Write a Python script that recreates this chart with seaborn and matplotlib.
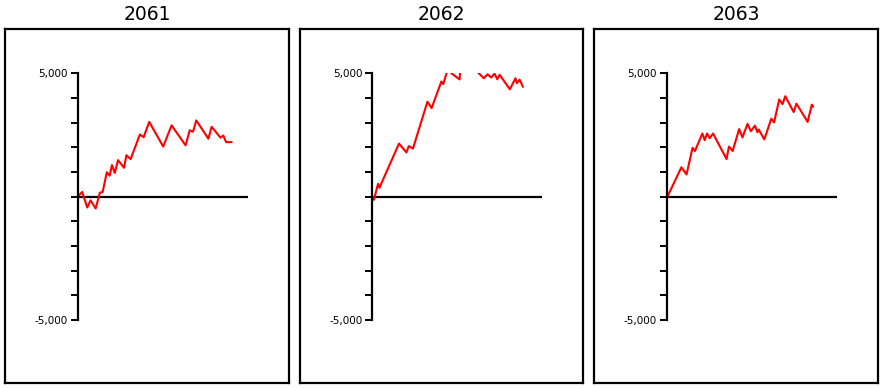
import numpy as np
import pandas as pd
import matplotlib
matplotlib.use("Agg")
import matplotlib.pyplot as plt
from matplotlib.ticker import FixedLocator, FuncFormatter
import seaborn as sns

# ---------------- data ----------------
years = ["2061", "2062", "2063"]

days_2061 = [0, 10, 21, 28, 39, 48, 54, 63, 69, 74, 80, 87, 100, 105, 114, 134, 142, 154,
             184, 202, 232, 241, 248, 255, 281, 288, 307, 313, 319, 331]
vals_2061 = [0, 190, -440, -150, -480, 160, 190, 990, 850, 1280, 960, 1480, 1170, 1680, 1520,
             2520, 2410, 3030, 2030, 2890, 2080, 2690, 2630, 3090, 2350, 2830, 2390, 2480, 2210, 2210]

days_2062 = [0, 4, 13, 16, 58, 74, 79, 88, 119, 128, 149, 153, 162, 188, 191, 221, 240, 248,
             256, 263, 269, 274, 296, 308, 311, 317, 324]
vals_2062 = [0, -130, 520, 360, 2150, 1790, 2050, 1950, 3850, 3590, 4670, 4560, 5130, 4750,
             5600, 5160, 4800, 4960, 4830, 4990, 4760, 4940, 4350, 4800, 4600, 4740, 4450]

days_2063 = [0, 32, 43, 56, 61, 77, 82, 87, 93, 100, 129, 134, 142, 156, 163, 174, 181, 190,
             195, 198, 210, 225, 231, 242, 249, 255, 273, 279, 303, 312, 315]
vals_2063 = [-80, 1190, 900, 1980, 1850, 2560, 2290, 2560, 2370, 2560, 1520, 2030, 1850, 2740,
             2400, 2950, 2650, 2880, 2610, 2720, 2320, 3160, 3010, 3940, 3750, 4070, 3430, 3770,
             3030, 3730, 3640]

y_ticks = [-5000, -4000, -3000, -2000, -1000, 0, 1000, 2000, 3000, 4000, 5000]
y_labelled = {5000: "5,000", -5000: "-5,000"}

frames = []
for yr, d, v in zip(years, [days_2061, days_2062, days_2063],
                    [vals_2061, vals_2062, vals_2063]):
    frames.append(pd.DataFrame({"year": yr, "day": d, "value": v}))
df = pd.concat(frames, ignore_index=True)

# ---------------- figure ----------------
sns.set_style("white")
plt.rcParams["font.family"] = ["DejaVu Sans"]
plt.rcParams["text.color"] = "black"
plt.rcParams["ytick.color"] = "black"
plt.rcParams["ytick.labelcolor"] = "black"

W, H = 885, 388
fig = plt.figure(figsize=(W / 100, H / 100), dpi=100)
fig.patch.set_facecolor("white")

frame_lefts = [5, 299.5, 594]
frame_w = 284
frame_top, frame_bot = 28.7, 383.3
inner_dx = 72.5
inner_w = 170
inner_top, inner_bot = 73.3, 320.0


def fx(px):
    return px / W


def fy(py):
    return 1 - py / H


for yr, fl in zip(years, frame_lefts):
    # outer frame
    fr = fig.add_axes([fx(fl), fy(frame_bot), fx(frame_w), (frame_bot - frame_top) / H])
    fr.set_xticks([])
    fr.set_yticks([])
    for s in fr.spines.values():
        s.set_visible(True)
        s.set_color("black")
        s.set_linewidth(1.6)
    fr.set_facecolor("white")
    fig.text(fx(fl + frame_w / 2), fy(14.5), yr, ha="center", va="center",
             fontsize=13.5, color="black")

    # inner data axes
    ax = fig.add_axes([fx(fl + inner_dx), fy(inner_bot), fx(inner_w),
                       (inner_bot - inner_top) / H])
    ax.patch.set_alpha(0)
    sub = df[df["year"] == yr]
    sns.lineplot(data=sub, x="day", y="value", ax=ax, color="#ff0000",
                 linewidth=1.5, legend=False)
    ax.set_xlim(0, 365)
    ax.set_ylim(-5000, 5000)
    ax.axhline(0, color="black", linewidth=1.6, zorder=1)
    for k in ["top", "right", "bottom"]:
        ax.spines[k].set_visible(False)
    ax.spines["left"].set_visible(True)
    ax.spines["left"].set_color("black")
    ax.spines["left"].set_linewidth(1.6)
    ax.set_xticks([])
    ax.yaxis.set_major_locator(FixedLocator(y_ticks))
    ax.yaxis.set_major_formatter(FuncFormatter(lambda v, p: y_labelled.get(int(round(v)), "")))
    ax.tick_params(axis="y", direction="out", length=5, width=1.4, color="black",
                   labelcolor="black", labelsize=7.5, pad=2, left=True)
    ax.set_xlabel("")
    ax.set_ylabel("")

fig.savefig("out.png", dpi=100, facecolor="white")
